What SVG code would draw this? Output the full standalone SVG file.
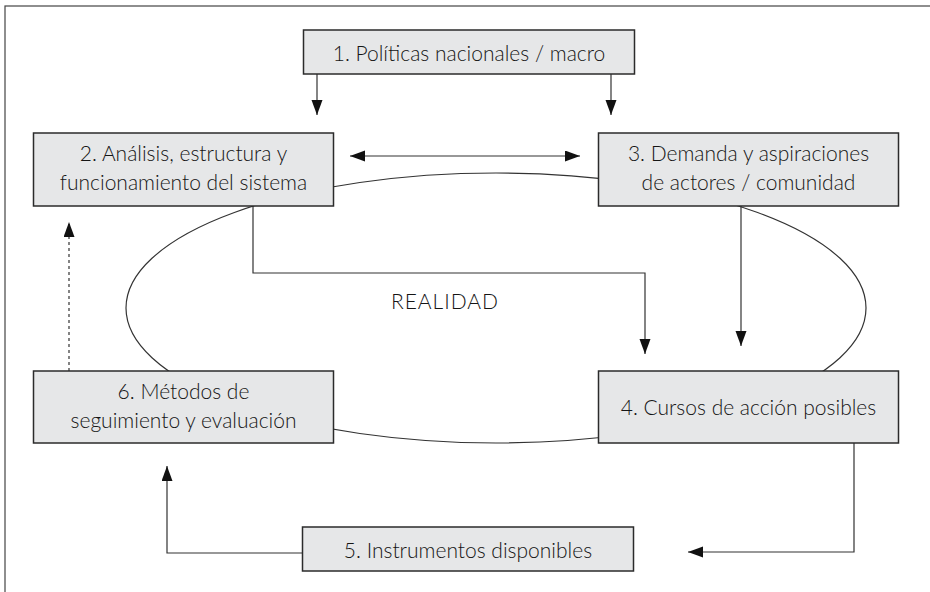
<svg xmlns="http://www.w3.org/2000/svg" width="930" height="592" viewBox="0 0 930 592">
<style>
.box{fill:#e6e7e8;stroke:#2b2b2b;stroke-width:1.5}
.t{font-family:Lato,"Open Sans","Liberation Sans",sans-serif;font-size:21px;font-weight:300;fill:#151515;text-anchor:middle}
.c{fill:none;stroke:#333;stroke-width:1.2}
.frame{fill:none;stroke:#444;stroke-width:1.2}
</style>
<defs>
<marker id="ah" markerUnits="userSpaceOnUse" markerWidth="16" markerHeight="12" refX="15" refY="5.5" orient="auto-start-reverse" viewBox="0 0 16 12">
<path d="M0,0 L15,5.5 L0,11 z" fill="#111"/>
</marker>
</defs>
<rect class="frame" x="5" y="6" width="940" height="600"/>
<g id="realidad">
<ellipse cx="496" cy="308" rx="370" ry="135" fill="none" stroke="#333" stroke-width="1.2"/>
<text class="t" x="445" y="309" letter-spacing="1">REALIDAD</text>
</g>
<g id="connectors">
<path class="c" d="M317,74 V115" marker-end="url(#ah)"/>
<path class="c" d="M611,74 V115" marker-end="url(#ah)"/>
<path class="c" d="M350,156 H580" marker-start="url(#ah)" marker-end="url(#ah)"/>
<path class="c" d="M253,206 V273 H645 V354" marker-end="url(#ah)"/>
<path class="c" d="M741,206 V346" marker-end="url(#ah)"/>
<path class="c" d="M854,443 V552 H688" marker-end="url(#ah)"/>
<path class="c" d="M302,553 H167 V466" marker-end="url(#ah)"/>
<path class="c" d="M69,371 V222" stroke-dasharray="3,3" marker-end="url(#ah)"/>
</g>
<g id="n1">
<rect class="box" x="303.5" y="30" width="331" height="44"/>
<text class="t" x="469" y="61">1. Políticas nacionales / macro</text>
</g>
<g id="n2">
<rect class="box" x="33.5" y="133" width="300" height="73"/>
<text class="t" x="183.5" y="161">2. Análisis, estructura y</text>
<text class="t" x="183.5" y="189.5">funcionamiento del sistema</text>
</g>
<g id="n3">
<rect class="box" x="598.5" y="133" width="300" height="73"/>
<text class="t" x="748.5" y="161">3. Demanda y aspiraciones</text>
<text class="t" x="748.5" y="189.5">de actores / comunidad</text>
</g>
<g id="n4">
<rect class="box" x="598.5" y="371" width="300" height="72"/>
<text class="t" x="748.5" y="414.5">4. Cursos de acción posibles</text>
</g>
<g id="n5">
<rect class="box" x="302.5" y="527" width="331" height="44"/>
<text class="t" x="468" y="558">5. Instrumentos disponibles</text>
</g>
<g id="n6">
<rect class="box" x="33.5" y="371" width="300" height="72"/>
<text class="t" x="183.5" y="399">6. Métodos de</text>
<text class="t" x="183.5" y="427.5">seguimiento y evaluación</text>
</g>
</svg>
